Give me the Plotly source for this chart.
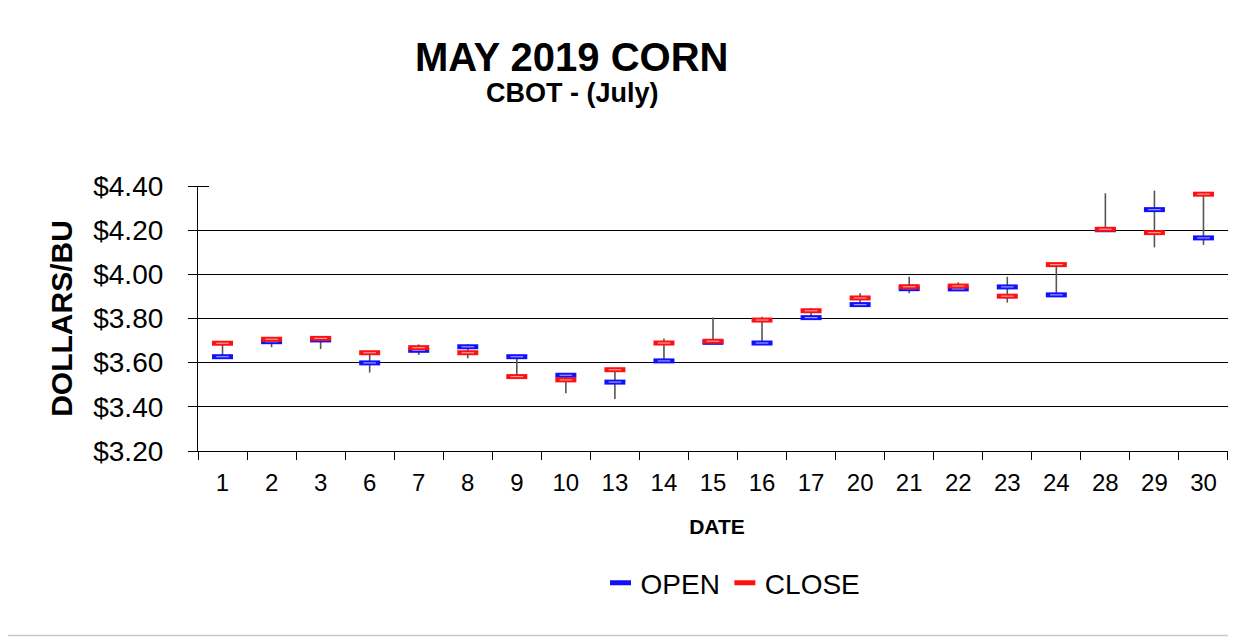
import plotly.graph_objects as go

# ---- data ----
dates = ["1", "2", "3", "6", "7", "8", "9", "10", "13", "14", "15",
         "16", "17", "20", "21", "22", "23", "24", "28", "29", "30"]
open_px = [3.627, 3.695, 3.703, 3.599, 3.656, 3.672, 3.627, 3.543, 3.512, 3.608, 3.692,
           3.689, 3.804, 3.863, 3.935, 3.934, 3.943, 3.907, 4.202, 4.293, 4.165]
close_px = [3.688, 3.706, 3.710, 3.645, 3.668, 3.645, 3.537, 3.522, 3.568, 3.689, 3.697,
            3.793, 3.835, 3.893, 3.944, 3.947, 3.901, 4.044, 4.204, 4.189, 4.363]
high_px = [3.690, 3.710, 3.718, 3.645, 3.683, 3.683, 3.627, 3.545, 3.568, 3.709, 3.804,
           3.808, 3.848, 3.914, 3.989, 3.964, 3.989, 4.044, 4.367, 4.379, 4.365]
low_px = [3.620, 3.670, 3.662, 3.555, 3.635, 3.620, 3.537, 3.461, 3.436, 3.608, 3.690,
          3.689, 3.800, 3.860, 3.914, 3.930, 3.872, 3.907, 4.200, 4.122, 4.133]
y_ticks = [3.2, 3.4, 3.6, 3.8, 4.0, 4.2, 4.4]

# page offset (browser body margin)
OFF = 8
W, H = 1236 - OFF, 637 - OFF
ML, MR, MT, MB = 198 - OFF, 0, 186 - OFF, 637 - 451
PW, PH = W - ML - MR, H - MT - MB


def px_x(p):
    # page pixel -> paper coordinate
    return (p - OFF - ML) / PW


def px_y(p):
    return (H - MB - (p - OFF)) / PH


# high-low lines
lx, ly = [], []
for d, lo, hi in zip(dates, low_px, high_px):
    lx += [d, d, None]
    ly += [lo, hi, None]

fig = go.Figure()
fig.add_trace(go.Scatter(x=lx, y=ly, mode="lines", line=dict(color="#555555", width=1.6),
                         showlegend=False, hoverinfo="skip"))

for name, vals, col, light in [("OPEN", open_px, "#1010ff", "#9a9aff"),
                               ("CLOSE", close_px, "#ff1010", "#ff9a9a")]:
    fig.add_trace(go.Scatter(x=dates, y=vals, mode="markers", name=name,
                             marker=dict(symbol="line-ew", size=15,
                                         line=dict(color=col, width=5))))
    fig.add_trace(go.Scatter(x=dates, y=vals, mode="markers", showlegend=False,
                             hoverinfo="skip",
                             marker=dict(symbol="line-ew", size=9,
                                         line=dict(color=light, width=1.2))))

font = "Liberation Sans, Arial, sans-serif"

fig.update_layout(
    width=W, height=H,
    margin=dict(l=ML, r=MR, t=MT, b=MB, autoexpand=False),
    paper_bgcolor="white", plot_bgcolor="white",
    font=dict(family=font, color="black"),
    showlegend=True,
    legend=dict(orientation="h", x=px_x(733), xanchor="center", y=px_y(583), yanchor="middle",
                font=dict(size=28, family=font), itemwidth=30, tracegroupgap=0,
                bgcolor="rgba(0,0,0,0)"),
    annotations=[
        dict(text="<b>MAY 2019 CORN</b>", xref="paper", yref="paper",
             x=px_x(571), y=px_y(57), xanchor="center", yanchor="middle",
             height=34, valign="middle",
             showarrow=False, font=dict(size=40, family=font)),
        dict(text="<b>CBOT - (July)</b>", xref="paper", yref="paper",
             x=px_x(572), y=px_y(93), xanchor="center", yanchor="middle",
             height=32, valign="middle",
             showarrow=False, font=dict(size=27, family=font)),
    ],
    shapes=[
        dict(type="line", xref="paper", yref="paper",
             x0=px_x(OFF), x1=px_x(1236), y0=px_y(635.5), y1=px_y(635.5),
             line=dict(color="#c8c8c8", width=1.5)),
    ],
)

fig.update_xaxes(
    type="category", categoryorder="array", categoryarray=dates,
    range=[-0.5, 20.5 + 8 / 49], automargin=False,
    showgrid=False, showline=True, linecolor="black", linewidth=1.2,
    ticks="outside", ticklen=8, tickcolor="black", tickwidth=1.2, tickson="boundaries",
    tickfont=dict(size=24, family=font), ticklabelstandoff=10,
    title=dict(text="<b>DATE</b>", font=dict(size=21, family=font), standoff=24),
    zeroline=False,
)

fig.update_yaxes(
    range=[3.2, 4.4], tickvals=y_ticks, tickformat="$.2f", automargin=False,
    showgrid=True, gridcolor="black", gridwidth=1,
    showline=True, linecolor="black", linewidth=1.2,
    ticks="outside", ticklen=9, tickcolor="black", tickwidth=1.2,
    minor=dict(tickvals=y_ticks, ticks="inside", ticklen=11, tickcolor="black", tickwidth=1.2,
               showgrid=False),
    tickfont=dict(size=28, family=font), ticklabelstandoff=19,
    title=dict(text="<b>DOLLARS/BU</b>", font=dict(size=30, family=font), standoff=11),
    zeroline=False,
)

fig.write_html("out.html")
